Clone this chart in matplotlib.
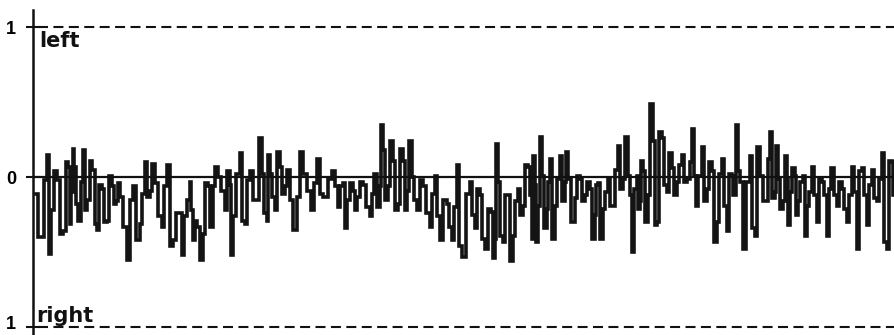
import matplotlib
matplotlib.use("Agg")
import matplotlib.pyplot as plt
import matplotlib.transforms as mtransforms
import numpy as np

# segment start times (arbitrary units) and the high / low excursion in each segment
t_start = [35, 40, 47, 51, 57, 63, 68, 71, 74, 78, 83, 87, 92, 97, 102, 107, 112, 116, 120, 127,
           133, 140, 145, 150, 155, 162, 167, 173, 180, 184, 190, 193, 197, 203, 208, 213, 218, 225, 230, 233,
           240, 245, 250, 257, 262, 267, 270, 275, 280, 285, 290, 297, 303, 312, 317, 323, 333, 338, 343, 347,
           353, 357, 363, 370, 374, 380, 383, 388, 393, 398, 403, 407, 412, 417, 423, 430, 435, 440, 447, 452,
           457, 462, 470, 475, 480, 485, 492, 495, 498, 503, 508, 513, 518, 523, 528, 532, 535, 538, 542, 547,
           550, 555, 560, 565, 568, 575, 580, 585, 590, 595, 598, 603, 608, 613, 618, 623, 628, 632, 637, 640,
           643, 648, 653, 657, 662, 667, 672, 677, 682, 687, 693, 695, 702, 707, 712, 717, 722, 727, 732, 735,
           738, 743, 750, 755, 760, 767, 770, 775, 778, 783, 787, 790, 795, 798, 803, 807, 812, 817, 822, 827,
           831, 837, 842, 847, 852, 857, 862, 867, 872, 877, 882, 887, 892]
seg_hi = [-0.11, -0.02, 0.15, 0.04, -0.02, 0.10, 0.07, 0.19, 0.07, -0.03, 0.18, 0.11, 0.05, -0.05, -0.08, 0.01, -0.06, -0.04, -0.13, -0.15,
          -0.06, -0.11, 0.10, 0.09, -0.04, -0.06, 0.08, -0.24, -0.24, -0.15, -0.03, -0.29, -0.33, -0.04, -0.06, 0.07, 0.00, 0.04, -0.05, 0.02,
          0.16, -0.02, 0.04, 0.26, 0.02, 0.15, 0.02, 0.17, 0.07, 0.05, -0.15, 0.17, 0.02, -0.04, 0.12, -0.01, 0.04, -0.06, -0.04, -0.04,
          -0.09, -0.03, -0.05, -0.11, 0.02, 0.35, 0.18, 0.24, 0.11, 0.19, 0.11, 0.24, 0.00, -0.02, -0.06, -0.11, 0.01, -0.15, -0.18, -0.20,
          0.08, -0.11, -0.03, -0.08, -0.12, -0.21, -0.23, 0.22, -0.03, -0.12, -0.12, -0.16, -0.08, 0.08, 0.07, 0.14, -0.05, 0.27, 0.01, -0.03,
          0.12, -0.01, 0.14, 0.17, -0.01, 0.01, -0.01, -0.03, -0.08, -0.05, -0.04, -0.10, -0.01, 0.05, 0.21, 0.27, 0.01, -0.08, 0.01, 0.11,
          0.04, 0.49, 0.24, 0.30, 0.26, 0.16, 0.06, 0.08, 0.15, 0.10, 0.32, 0.01, 0.20, 0.10, 0.04, 0.02, 0.12, 0.02, 0.01, 0.35,
          0.04, -0.03, 0.14, 0.20, 0.01, 0.12, 0.30, 0.21, -0.01, 0.14, -0.01, 0.06, 0.01, -0.03, 0.01, -0.10, 0.07, -0.01, -0.03, -0.08,
          0.06, -0.03, -0.08, -0.12, 0.07, 0.04, 0.06, -0.05, 0.05, -0.01, 0.16, 0.11, 0.10]
seg_lo = [-0.40, -0.40, -0.51, -0.22, -0.38, -0.36, -0.31, -0.10, -0.18, -0.29, -0.22, -0.15, -0.31, -0.35, -0.30, -0.29, -0.18, -0.16, -0.33, -0.55,
          -0.42, -0.31, -0.13, -0.09, -0.26, -0.33, -0.46, -0.42, -0.52, -0.26, -0.22, -0.42, -0.55, -0.38, -0.33, -0.06, -0.09, -0.22, -0.52, -0.26,
          -0.29, -0.31, -0.15, -0.15, -0.24, -0.29, -0.13, -0.22, -0.11, -0.06, -0.35, -0.13, -0.09, -0.22, -0.11, -0.13, -0.06, -0.20, -0.34, -0.15,
          -0.22, -0.13, -0.20, -0.26, -0.20, -0.06, -0.15, -0.06, -0.22, -0.18, -0.22, -0.09, -0.15, -0.22, -0.24, -0.33, -0.26, -0.42, -0.33, -0.42,
          -0.46, -0.53, -0.25, -0.34, -0.41, -0.48, -0.54, -0.41, -0.39, -0.43, -0.56, -0.39, -0.25, -0.19, -0.12, -0.41, -0.43, -0.19, -0.34, -0.21,
          -0.41, -0.19, -0.16, -0.03, -0.30, -0.14, -0.16, -0.12, -0.41, -0.25, -0.41, -0.21, -0.19, -0.19, -0.08, -0.01, -0.12, -0.50, -0.21, -0.16,
          -0.30, -0.12, -0.32, -0.30, -0.05, -0.10, -0.12, -0.03, -0.03, -0.01, 0.01, -0.19, -0.16, -0.08, -0.43, -0.30, -0.19, -0.36, -0.12, -0.12,
          -0.03, -0.48, -0.34, -0.39, -0.16, -0.16, -0.14, -0.10, -0.21, -0.16, -0.32, -0.10, -0.25, -0.16, -0.39, -0.19, -0.12, -0.30, -0.12, -0.39,
          -0.12, -0.19, -0.21, -0.30, -0.10, -0.48, -0.12, -0.32, -0.14, -0.16, -0.43, -0.48, -0.12]

tick_values = [-1, 0, 1]
tick_labels = ["1", "0", "1"]
channel_labels = ["left", "right"]

plt.rcParams['font.family'] = ['Liberation Sans', 'DejaVu Sans']

W, H = 895, 335
fig = plt.figure(figsize=(W / 100, H / 100), dpi=100)
left_px = 33
ax = fig.add_axes([left_px / W, 0, 1 - left_px / W, 1])
t_end = 895
ax.set_xlim(33, t_end)
ax.set_ylim((177 - 335) / 150, 177 / 150)

# build trace: within each segment go to high then low
ts = np.array(t_start + [t_end], dtype=float)
xs, ys = [], []
for i in range(len(t_start)):
    w = ts[i + 1] - ts[i]
    xs += [ts[i] + 0.25 * w, ts[i] + 0.75 * w]
    if i % 2 == 0:
        ys += [seg_hi[i], seg_lo[i]]
    else:
        ys += [seg_lo[i], seg_hi[i]]
ax.plot(xs, ys, drawstyle='steps-mid', color='#141414', lw=2.6, solid_joinstyle='miter')

# reference lines
ax.axhline(0, color='#111111', lw=1.6)
ax.plot([38, t_end], [1, 1], color='#111111', lw=1.5, dashes=(4.8, 2.6))
ax.plot([38, t_end], [-1, -1], color='#111111', lw=1.5, dashes=(4.8, 2.6))

for s in ['top', 'right', 'bottom']:
    ax.spines[s].set_visible(False)
ax.spines['left'].set_linewidth(1.8)
ax.spines['left'].set_color('#111111')
ax.spines['left'].set_bounds((177 - 335) / 150, 1.11)
ax.set_xticks([])
ax.set_yticks(tick_values)
ax.set_yticklabels(tick_labels, fontsize=13, fontweight='bold')
ax.tick_params(axis='y', direction='inout', length=10, width=1.5, pad=7, color='#111111')
bottom_lab = ax.get_yticklabels()[0]
bottom_lab.set_va('baseline')
bottom_lab.set_transform(bottom_lab.get_transform() +
                         mtransforms.ScaledTranslation(0, -2 / 100, fig.dpi_scale_trans))

ax.text(39, 0.975, channel_labels[0], fontsize=15, fontweight='bold', va='top', ha='left',
        color='#111111', family=['DejaVu Sans'])
ax.text(36, -0.97, channel_labels[1], fontsize=15, fontweight='bold', va='baseline', ha='left',
        color='#111111', family=['DejaVu Sans'])

fig.savefig('out.png', dpi=100)
